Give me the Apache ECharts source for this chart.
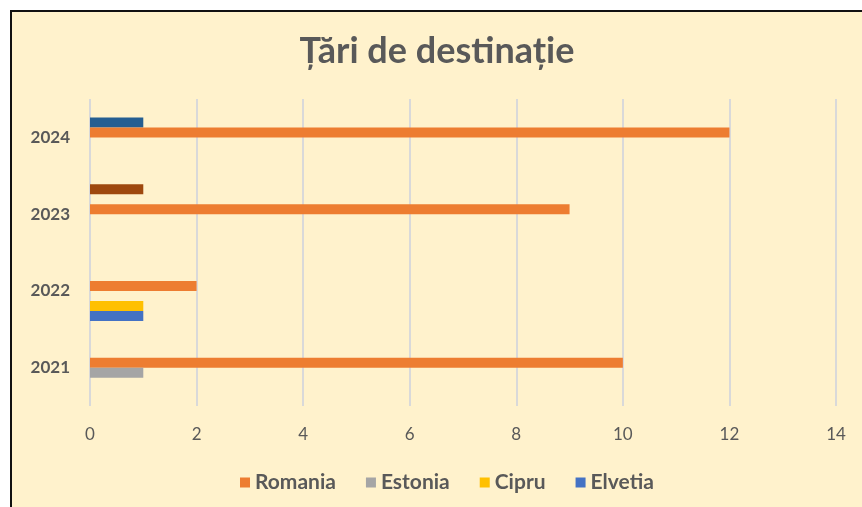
<!DOCTYPE html>
<html>
<head>
<meta charset="utf-8">
<style>
  html, body { margin: 0; padding: 0; background: #ffffff; }
  #frame {
    position: absolute; left: 10px; top: 10px;
    width: 850px; height: 495px;
    border-left: 2px solid #111; border-top: 2px solid #111;
    background: #FFF2CC;
  }
  #chart { width: 850px; height: 495px; }
</style>
<script src="https://cdn.jsdelivr.net/npm/echarts@6/dist/echarts.min.js"></script>
</head>
<body>
<div id="frame"><div id="chart"></div></div>
<script>
// Years on the category axis (bottom to top)
const years = ['2021', '2022', '2023', '2024'];

// Number of trips per destination and year
const romania = [10, 2, 9, 12];
const estonia = [1, null, null, null];
const cipru   = [null, 1, null, null];
const elvetia = [null, 1, null, null];
// Two extra unnamed series shown without a legend entry
const extraBlue  = [null, null, null, 1];
const extraBrown = [null, null, 1, null];

const legendNames = ['Romania', 'Estonia', 'Cipru', 'Elvetia'];
const xTicks = { min: 0, max: 14, interval: 2 };

const font = 'Lato, "Open Sans", sans-serif';
const grey = '#595959';

function bar(name, data, color) {
  return {
    name: name,
    type: 'bar',
    data: data,
    barWidth: 10,
    barGap: '0%',
    itemStyle: { color: color },
    emphasis: { disabled: true }
  };
}

const chart = echarts.init(document.getElementById('chart'), null, { renderer: 'canvas' });
chart.setOption({
  animation: false,
  backgroundColor: 'transparent',
  title: {
    text: 'Țări de destinație',
    left: 'center',
    top: 16,
    textStyle: { fontFamily: font, fontSize: 36, fontWeight: 'bold', color: grey }
  },
  legend: {
    data: legendNames,
    bottom: 9,
    left: 223,
    itemWidth: 10,
    itemHeight: 10,
    itemGap: 30,
    icon: 'rect',
    textStyle: { fontFamily: font, fontSize: 21, fontWeight: 'bold', color: grey }
  },
  grid: { left: 78, top: 87, width: 746, height: 307 },
  xAxis: {
    type: 'value',
    min: xTicks.min, max: xTicks.max, interval: xTicks.interval,
    axisLine: { show: false },
    axisTick: { show: false },
    axisLabel: { fontFamily: font, fontSize: 17, color: grey, margin: 20 },
    splitLine: { lineStyle: { color: '#D9D9D9', width: 2 } }
  },
  yAxis: {
    type: 'category',
    data: years,
    axisLine: { show: false },
    axisTick: { show: false },
    axisLabel: { fontFamily: font, fontSize: 17, fontWeight: 'bold', color: grey, margin: 20 }
  },
  series: [
    bar('', extraBrown, '#9E480E'),
    bar('', extraBlue, '#255E91'),
    bar('Romania', romania, '#ED7D31'),
    bar('Estonia', estonia, '#A5A5A5'),
    bar('Cipru', cipru, '#FFC000'),
    bar('Elvetia', elvetia, '#4472C4')
  ]
});
</script>
</body>
</html>
